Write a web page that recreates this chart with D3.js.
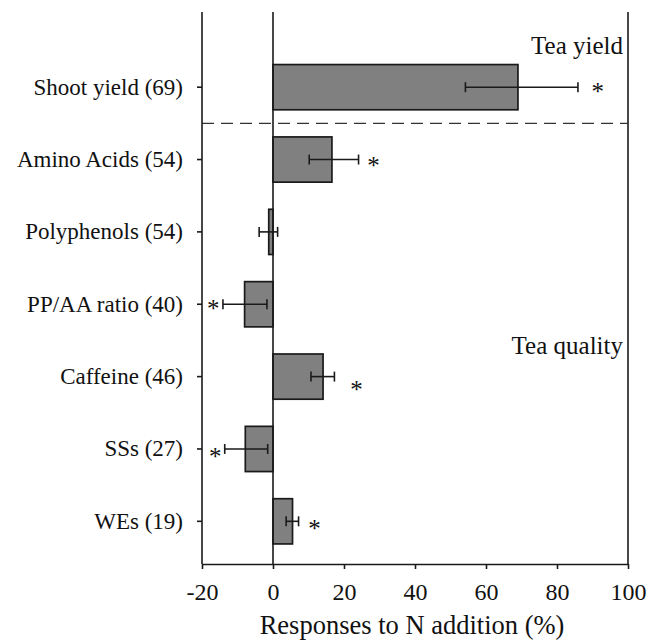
<!DOCTYPE html>
<html><head><meta charset="utf-8">
<script src="https://cdn.jsdelivr.net/npm/d3@7"></script>
</head><body style="margin:0">
<svg id="chart" width="648" height="642"></svg>
<script>
const categories = ["Shoot yield (69)","Amino Acids (54)","Polyphenols (54)","PP/AA ratio (40)","Caffeine (46)","SSs (27)","WEs (19)"];
const means = [69.0, 16.6, -1.2, -8.0, 14.1, -7.8, 5.5];
const ciLow = [54.2, 10.2, -3.9, -14.1, 10.7, -13.6, 3.7];
const ciHigh = [85.9, 24.1, 1.3, -1.7, 17.3, -1.5, 7.2];
const significant = [true, true, false, true, true, true, true];
const starPos = [91.5, 28.3, 0, -16.8, 23.5, -16.3, 11.7];
const starShift = [0, 1, 0, 0, 8, 3, 3];
const xTicks = [-20, 0, 20, 40, 60, 80, 100];
const groupLabels = ["Tea yield", "Tea quality"];

const FONT = '"Liberation Serif"';
const pLeft = 202, pRight = 628, pTop = 12, pBottom = 564;
const svg = d3.select("#chart");

const x = d3.scaleLinear().domain([-20, 100]).range([pLeft, pRight]);
const y = d3.scaleBand().domain(categories).range([51, 557.5]).paddingInner(0.375).paddingOuter(0.1875);

// bars
svg.append("g").selectAll("rect").data(categories).join("rect")
  .attr("x", (d, i) => x(Math.min(0, means[i])))
  .attr("width", (d, i) => Math.abs(x(means[i]) - x(0)))
  .attr("y", d => y(d))
  .attr("height", y.bandwidth())
  .attr("fill", "#808080").attr("stroke", "#1a1a1a").attr("stroke-width", 1.7);

// error bars
const eb = svg.append("g").attr("stroke", "#1a1a1a").attr("stroke-width", 1.6);
categories.forEach((c, i) => {
  const cy = y(c) + y.bandwidth() / 2;
  eb.append("line").attr("x1", x(ciLow[i])).attr("x2", x(ciHigh[i])).attr("y1", cy).attr("y2", cy);
  [ciLow[i], ciHigh[i]].forEach(v => eb.append("line").attr("x1", x(v)).attr("x2", x(v)).attr("y1", cy - 5).attr("y2", cy + 5));
});

function styleText(sel, size) {
  sel.style("font-family", FONT).style("font-size", size + "px").attr("fill", "#111");
}

// significance stars
svg.append("g").selectAll("text").data(categories.filter((c, i) => significant[i])).join("text")
  .attr("x", d => x(starPos[categories.indexOf(d)]))
  .attr("y", d => y(d) + y.bandwidth() / 2 + 13 + starShift[categories.indexOf(d)])
  .attr("text-anchor", "middle").call(styleText, 25).text("*");

// zero line
svg.append("line").attr("x1", x(0)).attr("x2", x(0)).attr("y1", pTop).attr("y2", pBottom)
  .attr("stroke", "#1a1a1a").attr("stroke-width", 1.6);
// right border
svg.append("line").attr("x1", pRight).attr("x2", pRight).attr("y1", pTop).attr("y2", pBottom)
  .attr("stroke", "#1a1a1a").attr("stroke-width", 1.6);

// dashed separator
const sepY = (y(categories[0]) + y.bandwidth() + y(categories[1])) / 2;
svg.append("line").attr("x1", pLeft).attr("x2", pRight).attr("y1", sepY).attr("y2", sepY)
  .attr("stroke", "#333").attr("stroke-width", 1.4).attr("stroke-dasharray", "12,7");

// x axis
const xa = svg.append("g").attr("transform", `translate(0,${pBottom})`)
  .call(d3.axisBottom(x).tickValues(xTicks).tickSize(5).tickSizeOuter(0).tickPadding(14).tickFormat(d => String(d)));
xa.attr("font-family", null).attr("font-size", null);
xa.select(".domain").attr("stroke", "#1a1a1a").attr("stroke-width", 1.6);
xa.selectAll(".tick line").attr("stroke", "#1a1a1a").attr("stroke-width", 1.6);
xa.selectAll(".tick text").call(styleText, 24);

// y axis
const ya = svg.append("g").attr("transform", `translate(${pLeft},0)`)
  .call(d3.axisLeft(y).tickSize(5).tickSizeOuter(0).tickPadding(14));
ya.attr("font-family", null).attr("font-size", null);
ya.select(".domain").attr("d", `M0,${pTop}V${pBottom}`).attr("stroke", "#1a1a1a").attr("stroke-width", 1.6);
ya.selectAll(".tick line").attr("stroke", "#1a1a1a").attr("stroke-width", 1.6);
ya.selectAll(".tick text").call(styleText, 23);

// axis title
svg.append("text").attr("x", 412).attr("y", 634).attr("text-anchor", "middle")
  .call(styleText, 26.5).text("Responses to N addition (%)");

// group labels
svg.append("text").attr("x", 623).attr("y", 54).attr("text-anchor", "end").call(styleText, 25).text(groupLabels[0]);
svg.append("text").attr("x", 623).attr("y", 354).attr("text-anchor", "end").call(styleText, 25).text(groupLabels[1]);
</script></body></html>
